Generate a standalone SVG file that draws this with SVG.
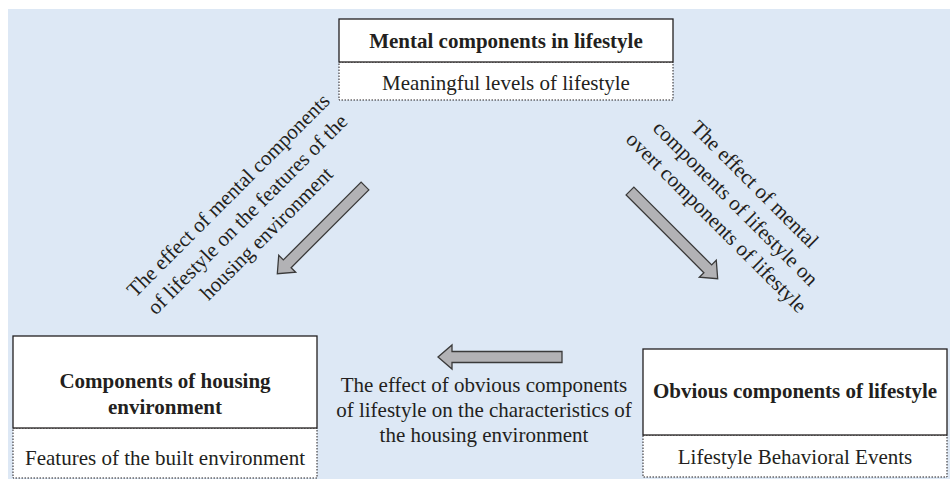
<svg xmlns="http://www.w3.org/2000/svg" width="950" height="479" viewBox="0 0 950 479">
<style>
.t{font-family:"Liberation Serif","Times New Roman",serif;font-size:21px;fill:#231f20;text-anchor:middle}
.b{font-weight:bold}
.box{fill:#fff;stroke:#231f20;stroke-width:1.3}
.dot{fill:#fff;stroke:#231f20;stroke-width:1;stroke-dasharray:1.5 1.5}
.arr{fill:#b2b2b5;stroke:#3a3a3a;stroke-width:1.3;stroke-linejoin:miter}
</style>
<defs>
<path id="ar" d="M0,-5.5 L110,-5.5 L110,-12 L124,0 L110,12 L110,5.5 L0,5.5 Z"/>
</defs>
<rect x="8" y="9" width="942" height="470" fill="#dde8f5"/>
<g id="mental">
<rect class="dot" x="339" y="62" width="334" height="38"/>
<rect class="box" x="339" y="19" width="334" height="43"/>
<text class="t b" x="506" y="48">Mental components in lifestyle</text>
<text class="t" x="506" y="90">Meaningful levels of lifestyle</text>
</g>
<g id="housing">
<rect class="dot" x="13" y="428" width="304" height="50"/>
<rect class="box" x="13" y="336" width="304" height="92"/>
<text class="t b" x="165" y="388">Components of housing</text>
<text class="t b" x="165" y="414">environment</text>
<text class="t" x="165" y="465">Features of the built environment</text>
</g>
<g id="obvious">
<rect class="dot" x="643" y="435" width="304" height="42"/>
<rect class="box" x="643" y="349" width="304" height="86"/>
<text class="t b" x="795" y="398">Obvious components of lifestyle</text>
<text class="t" x="795" y="464">Lifestyle Behavioral Events</text>
</g>
<g id="connectors">
<use href="#ar" class="arr" transform="translate(365,186) rotate(135)"/>
<use href="#ar" class="arr" transform="translate(630,191) rotate(45)"/>
<use href="#ar" class="arr" transform="translate(562,357) rotate(180)"/>
<g transform="translate(248,215) rotate(-45)">
<text class="t" x="0" y="-21">The effect of mental components</text>
<text class="t" x="0" y="6">of lifestyle on the features of the</text>
<text class="t" x="0" y="33">housing environment</text>
</g>
<g transform="translate(735,204) rotate(45)">
<text class="t" x="0" y="-21">The effect of mental</text>
<text class="t" x="0" y="6">components of lifestyle on</text>
<text class="t" x="0" y="33">overt components of lifestyle</text>
</g>
<text class="t" x="484" y="392">The effect of obvious components</text>
<text class="t" x="484" y="417">of lifestyle on the characteristics of</text>
<text class="t" x="484" y="442">the housing environment</text>
</g>
</svg>
